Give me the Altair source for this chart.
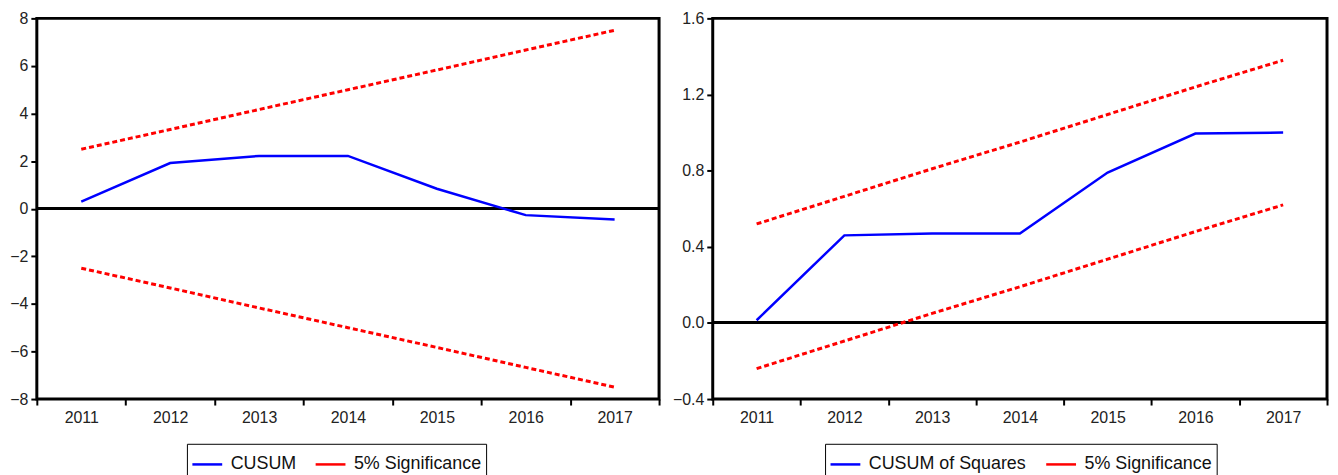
import altair as alt
import pandas as pd

years = [2011, 2012, 2013, 2014, 2015, 2016, 2017]

cusum = [0.30, 1.92, 2.22, 2.22, 0.84, -0.27, -0.45]
cusum_upper = [2.50, 3.33, 4.17, 5.00, 5.83, 6.67, 7.50]
cusum_lower = [-2.50, -3.33, -4.17, -5.00, -5.83, -6.67, -7.50]

cusumsq = [0.014, 0.46, 0.47, 0.47, 0.79, 0.995, 1.00]
sq_upper = [0.52, 0.665, 0.81, 0.95, 1.095, 1.24, 1.38]
sq_lower = [-0.24, -0.095, 0.05, 0.19, 0.335, 0.48, 0.62]

left_ticks = [-8, -6, -4, -2, 0, 2, 4, 6, 8]
right_ticks = [-0.4, 0.0, 0.4, 0.8, 1.2, 1.6]

SIG = "5% Significance"
FONT = "Liberation Sans"


def make_df(main_name, main_vals, up_vals, lo_vals):
    rows = []
    for y, v in zip(years, main_vals):
        rows.append({"year": y, "value": v, "series": main_name, "part": "main"})
    for y, v in zip(years, up_vals):
        rows.append({"year": y, "value": v, "series": SIG, "part": "upper"})
    for y, v in zip(years, lo_vals):
        rows.append({"year": y, "value": v, "series": SIG, "part": "lower"})
    return pd.DataFrame(rows)


def panel(df, main_name, ydomain, yticks, fmt, width, legend_x):
    x = alt.X(
        "year:O",
        bandPosition=0.5,
        scale=alt.Scale(type="band", paddingInner=0, paddingOuter=0),
        axis=alt.Axis(title=None, labelAngle=0, tickBand="extent", labelPadding=5),
    )
    y = alt.Y(
        "value:Q",
        scale=alt.Scale(domain=ydomain, nice=False, zero=False),
        axis=alt.Axis(title=None, values=yticks, format=fmt, labelPadding=3),
    )
    color = alt.Color(
        "series:N",
        scale=alt.Scale(domain=[main_name, SIG], range=["#0000FF", "#FF0000"]),
        legend=alt.Legend(
            title=None,
            orient="none",
            legendX=legend_x,
            legendY=428,
            direction="horizontal",
            symbolType="stroke",
            symbolSize=900,
            symbolStrokeWidth=2.5,
            labelFont=FONT,
            labelFontSize=18,
            labelColor="#111111",
            labelOffset=7,
            columnPadding=14,
            strokeColor="black",
            padding=4,
        ),
    )
    base = alt.Chart(df)
    zero = base.mark_rule(color="black", strokeWidth=2.2).encode(y=alt.datum(0))
    main = base.transform_filter(alt.datum.part == "main").mark_line(strokeWidth=2.5).encode(
        x=x, y=y, color=color
    )
    sig = base.transform_filter(alt.datum.part != "main").mark_line(
        strokeWidth=3, strokeDash=[5, 3]
    ).encode(x=x, y=y, color=color, detail="part:N")
    return alt.layer(zero, main, sig).properties(width=width, height=383)


left = panel(
    make_df("CUSUM", cusum, cusum_upper, cusum_lower),
    "CUSUM", [-8, 8], left_ticks, "d", 626, 151,
)
right = panel(
    make_df("CUSUM of Squares", cusumsq, sq_upper, sq_lower),
    "CUSUM of Squares", [-0.4, 1.6], right_ticks, ".1f", 618, 113,
)

chart = alt.hconcat(left, right, spacing=8).resolve_scale(color="independent").properties(
    padding={"left": 0, "top": -1, "right": 0, "bottom": 0}
).configure_view(
    stroke="black", strokeWidth=3
).configure_axis(
    labelFont=FONT,
    labelFontSize=16,
    labelColor="#222222",
    tickColor="black",
    tickWidth=2,
    tickSize=6,
    domain=False,
    grid=False,
)

chart.save("out.html", embed_options={"renderer": "svg", "actions": False})
